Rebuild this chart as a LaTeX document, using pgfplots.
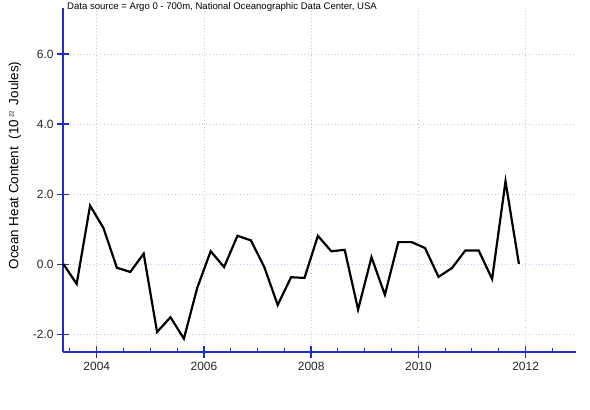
\documentclass[border=0pt]{standalone}
\usepackage{pgfplots}
\pgfplotsset{compat=1.18}
\usepackage{fontspec}
\setmainfont{Liberation Sans}
\definecolor{axblue}{RGB}{30,45,200}
\definecolor{gridc}{RGB}{195,195,245}
\begin{document}
\begin{tikzpicture}
\begin{axis}[
  scale only axis,
  width=513bp, height=344bp,
  xmin=2003.37, xmax=2012.94,
  ymin=-2.49, ymax=7.31,
  axis x line=bottom, axis y line=left,
  axis line style={-, axblue, line width=1.4bp},
  xtick={2004,2006,2008,2010,2012},
  xticklabels={2004,2006,2008,2010,2012},
  minor xtick={2003.5,2004,...,2012.5},
  ytick={-2,0,2,4,6},
  yticklabel style={/pgf/number format/fixed, /pgf/number format/fixed zerofill, /pgf/number format/precision=1},
  /pgf/number format/assume math mode=true,
  tick align=center,
  major tick length=12bp,
  minor tick length=4bp,
  tick style={axblue, line width=1.4bp},
  minor x tick style={yshift=2bp, line width=1bp},
  ticklabel style={font=\fontsize{12}{13}\selectfont, text=black!85},
  xticklabel style={yshift=-1bp},
  grid=major,
  major grid style={gridc, line width=0.9bp, dash pattern=on 1bp off 2.4bp},
  clip=false,
]
\addplot[black, line width=2.2bp, line join=miter] coordinates {
(2003.375,0.02) (2003.625,-0.55) (2003.875,1.68) (2004.125,1.04)
(2004.375,-0.09) (2004.625,-0.21) (2004.875,0.31) (2005.125,-1.92)
(2005.375,-1.50) (2005.625,-2.11) (2005.875,-0.66) (2006.125,0.38)
(2006.375,-0.07) (2006.625,0.82) (2006.875,0.69) (2007.125,-0.07)
(2007.375,-1.15) (2007.625,-0.36) (2007.875,-0.38) (2008.125,0.82)
(2008.375,0.38) (2008.625,0.42) (2008.875,-1.28) (2009.125,0.21)
(2009.375,-0.86) (2009.625,0.64) (2009.875,0.64) (2010.125,0.47)
(2010.375,-0.35) (2010.625,-0.10) (2010.875,0.40) (2011.125,0.40)
(2011.375,-0.41) (2011.625,2.37) (2011.875,0.02)
};
\coordinate (SW) at (rel axis cs:0,0);
\coordinate (NE) at (rel axis cs:1,1);
\node[anchor=north west, inner sep=0pt, font=\fontsize{9.6}{10}\selectfont] at ([shift={(4bp,6bp)}]rel axis cs:0,1) {Data source = Argo 0 - 700m, National Oceanographic Data Center, USA};
\node[rotate=90, inner sep=0pt, font=\fontsize{13.5}{14}\selectfont] at ([xshift=-48bp]rel axis cs:0,0.542) {Ocean Heat Content\ \ (10\,\raisebox{0.7ex}{\fontsize{6}{7}\selectfont 22}\, Joules)};
\end{axis}
\pgfresetboundingbox
\useasboundingbox ([shift={(-63bp,-58bp)}]SW) rectangle ([shift={(14bp,8bp)}]NE);
\end{tikzpicture}
\end{document}
